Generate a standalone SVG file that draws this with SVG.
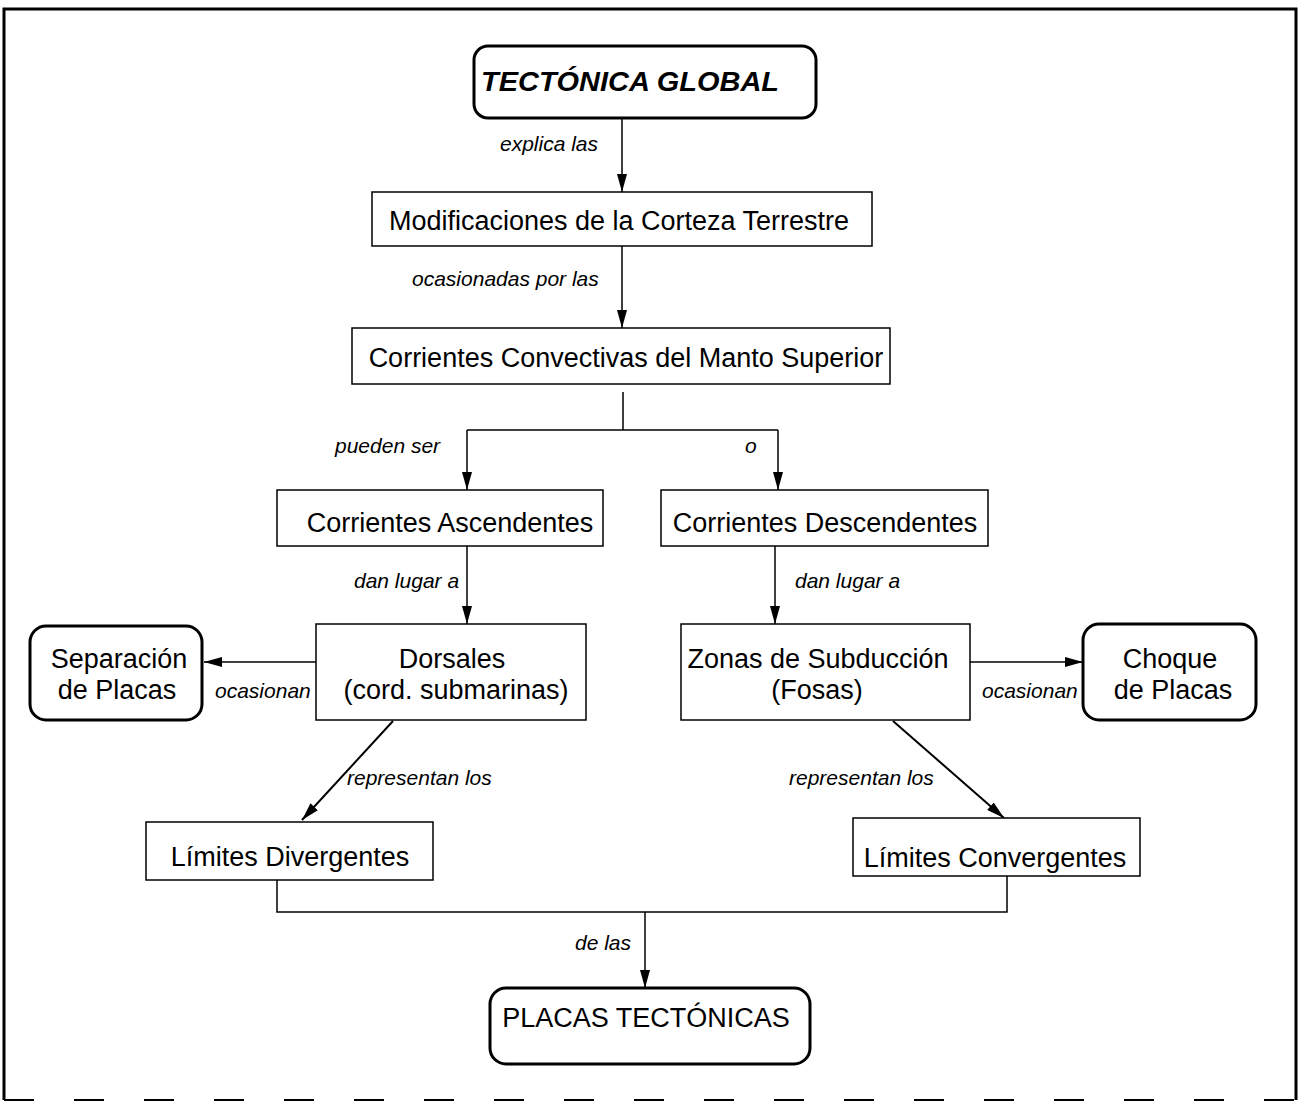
<svg xmlns="http://www.w3.org/2000/svg" width="1300" height="1102" viewBox="0 0 1300 1102">
<defs>
<marker id="ah" viewBox="0 0 18 10" refX="18" refY="5" markerWidth="18" markerHeight="10" markerUnits="userSpaceOnUse" orient="auto">
<path d="M0,0 L18,5 L0,10 Z" fill="#000"/>
</marker>
<style>
.box{fill:#fff;stroke:#000;stroke-width:1.5}
.rbox{fill:#fff;stroke:#000;stroke-width:3}
.t{font-family:"Liberation Sans",Arial,sans-serif;font-size:27px;fill:#000;text-anchor:middle}
.lbl{font-family:"Liberation Sans",Arial,sans-serif;font-size:21px;font-style:italic;fill:#000}
.c{fill:none;stroke:#000;stroke-width:1.5}
.ca{fill:none;stroke:#000;stroke-width:1.5;marker-end:url(#ah)}
.cd{fill:none;stroke:#000;stroke-width:2;marker-end:url(#ah)}
</style>
</defs>
<rect width="1300" height="1102" fill="#fff"/>
<g id="frame">
<path d="M4,1100 L4,9 L1296,9 L1296,1100" fill="none" stroke="#000" stroke-width="3"/>
<path d="M4,1100 L1296,1100" fill="none" stroke="#000" stroke-width="2" stroke-dasharray="30,40"/>
</g>
<g id="connectors">
<line class="ca" x1="622" y1="118" x2="622" y2="192"/>
<text class="lbl" x="500" y="151">explica  las</text>
<line class="ca" x1="622" y1="246" x2="622" y2="328"/>
<text class="lbl" x="412" y="286">ocasionadas por las</text>
<path class="c" d="M623,392 L623,430 M467,430 L778,430"/>
<line class="ca" x1="467" y1="430" x2="467" y2="490"/>
<line class="ca" x1="778" y1="430" x2="778" y2="490"/>
<text class="lbl" x="335" y="453">pueden ser</text>
<text class="lbl" x="745" y="453">o</text>
<line class="ca" x1="467" y1="546" x2="467" y2="624"/>
<text class="lbl" x="354" y="588">dan lugar a</text>
<line class="ca" x1="775" y1="546" x2="775" y2="624"/>
<text class="lbl" x="795" y="588">dan lugar a</text>
<line class="ca" x1="316" y1="662" x2="204" y2="662"/>
<text class="lbl" x="215" y="698">ocasionan</text>
<line class="ca" x1="970" y1="662" x2="1083" y2="662"/>
<text class="lbl" x="982" y="698">ocasionan</text>
<line class="cd" x1="393" y1="721" x2="302" y2="820"/>
<text class="lbl" x="347" y="785">representan los</text>
<line class="cd" x1="893" y1="721" x2="1004" y2="818"/>
<text class="lbl" x="789" y="785">representan los</text>
<path class="c" d="M277,880 L277,912 L1007,912 L1007,876"/>
<line class="ca" x1="645" y1="912" x2="645" y2="988"/>
<text class="lbl" x="575" y="950">de las</text>
</g>
<g id="n-tectonica">
<rect class="rbox" x="474" y="46" width="342" height="72" rx="14"/>
<text class="t" x="630" y="91" font-weight="bold" font-style="italic" font-size="28" textLength="298" lengthAdjust="spacingAndGlyphs">TECTÓNICA GLOBAL</text>
</g>
<g id="n-modificaciones">
<rect class="box" x="372" y="192" width="500" height="54"/>
<text class="t" x="619" y="230">Modificaciones de la Corteza Terrestre</text>
</g>
<g id="n-convectivas">
<rect class="box" x="352" y="328" width="538" height="56"/>
<text class="t" x="626" y="367">Corrientes Convectivas del Manto Superior</text>
</g>
<g id="n-ascendentes">
<rect class="box" x="277" y="490" width="326" height="56"/>
<text class="t" x="450" y="532">Corrientes Ascendentes</text>
</g>
<g id="n-descendentes">
<rect class="box" x="661" y="490" width="327" height="56"/>
<text class="t" x="825" y="532">Corrientes Descendentes</text>
</g>
<g id="n-dorsales">
<rect class="box" x="316" y="624" width="270" height="96"/>
<text class="t" x="452" y="668">Dorsales</text>
<text class="t" x="456" y="699">(cord. submarinas)</text>
</g>
<g id="n-zonas">
<rect class="box" x="681" y="624" width="289" height="96"/>
<text class="t" x="818" y="668">Zonas de Subducción</text>
<text class="t" x="817" y="699">(Fosas)</text>
</g>
<g id="n-separacion">
<rect class="rbox" x="30" y="626" width="172" height="94" rx="16"/>
<text class="t" x="119" y="668">Separación</text>
<text class="t" x="117" y="699">de Placas</text>
</g>
<g id="n-choque">
<rect class="rbox" x="1083" y="624" width="173" height="96" rx="16"/>
<text class="t" x="1170" y="668">Choque</text>
<text class="t" x="1173" y="699">de Placas</text>
</g>
<g id="n-divergentes">
<rect class="box" x="146" y="822" width="287" height="58"/>
<text class="t" x="290" y="866">Límites Divergentes</text>
</g>
<g id="n-convergentes">
<rect class="box" x="853" y="818" width="287" height="58"/>
<text class="t" x="995" y="867">Límites Convergentes</text>
</g>
<g id="n-placas">
<rect class="rbox" x="490" y="988" width="320" height="76" rx="16"/>
<text class="t" x="646" y="1027">PLACAS TECTÓNICAS</text>
</g>
</svg>
